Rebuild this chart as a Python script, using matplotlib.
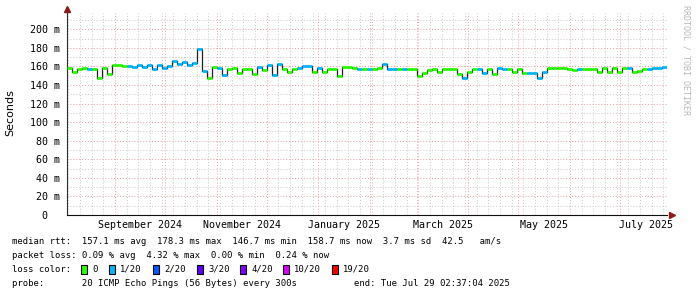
import matplotlib
matplotlib.use('Agg')
import matplotlib.pyplot as plt
import matplotlib.dates as mdates
import matplotlib.transforms as mtransforms
from matplotlib.patches import Rectangle
from matplotlib.ticker import MultipleLocator, FuncFormatter
from datetime import datetime, timedelta

# ---- data (one value every 3 days) ----
start = datetime(2024, 8, 3, 2, 37, 4)
end = datetime(2025, 7, 29, 2, 37, 4)
step_days = 3

median_ms = [
    158, 154, 157.5, 158.5, 157, 157, 148, 158, 152, 161,
    161, 160.5, 160, 159.5, 162, 159, 162, 157, 161, 158,
    160, 165.5, 163, 165, 162, 163.5, 178.5, 155, 148, 159.5,
    158, 151, 157.5, 158, 153, 157.5, 157, 152, 159, 156,
    161, 151, 162.5, 157, 154, 157, 158, 160, 160, 154,
    158.5, 154, 157, 157, 150, 159.7, 159.7, 158, 157.3, 157.5,
    157, 157.5, 158, 162.5, 157.5, 157, 157.5, 157, 157.5, 157.5,
    150, 153, 156.5, 157.5, 154, 157.5, 157.5, 157.5, 152, 147.5,
    154, 157.5, 157.5, 153, 157.5, 151.5, 158, 157.5, 157.5, 154,
    157.5, 153, 153, 153, 148, 154, 158.7, 158.7, 158.7, 158.5,
    157.5, 156, 157.5, 157.5, 157.5, 157.5, 154, 158, 154, 158,
    154, 158, 158, 154, 155, 157.5, 157.5, 158.5, 158.5, 159.5,
]
# index into loss_colors (0 -> 0 lost, 1 -> 1/20 lost)
loss_level = [
    0, 0, 0, 0, 1, 0, 0, 0, 0, 0,
    0, 0, 1, 1, 1, 1, 1, 1, 1, 1,
    1, 1, 1, 1, 1, 1, 1, 1, 0, 0,
    1, 1, 0, 0, 0, 0, 0, 0, 1, 0,
    1, 1, 1, 0, 0, 0, 1, 1, 1, 0,
    1, 0, 0, 0, 0, 0, 0, 0, 1, 0,
    1, 0, 0, 1, 1, 1, 0, 1, 0, 0,
    0, 0, 0, 0, 0, 0, 0, 0, 0, 1,
    0, 0, 1, 1, 0, 0, 1, 1, 0, 0,
    0, 0, 1, 1, 1, 1, 0, 0, 0, 0,
    0, 0, 1, 0, 0, 0, 0, 0, 0, 0,
    0, 0, 1, 0, 0, 0, 1, 1, 1, 1,
]

loss_colors = ['#26ff00', '#00b8ff', '#0059ff', '#5e00ff', '#7e00ff', '#dd00ff', '#ff0000']
loss_labels = ['0', '1/20', '2/20', '3/20', '4/20', '10/20', '19/20']

month_labels = ['September 2024', 'November 2024', 'January 2025',
                'March 2025', 'May 2025', 'July 2025']
label_months = [(2024, 9), (2024, 11), (2025, 1), (2025, 3), (2025, 5), (2025, 7)]

legend_lines = [
    'median rtt:  157.1 ms avg  178.3 ms max  146.7 ms min  158.7 ms now  3.7 ms sd  42.5   am/s',
    'packet loss: 0.09 % avg  4.32 % max  0.00 % min  0.24 % now',
    'loss color:',
    'probe:       20 ICMP Echo Pings (56 Bytes) every 300s',
]
end_text = 'end: Tue Jul 29 02:37:04 2025'

MONO = 'DejaVu Sans Mono'
W, H = 697, 297


def fx(px):
    return px / W


def fy(py):
    return 1 - py / H


fig = plt.figure(figsize=(W / 100, H / 100), dpi=100)
fig.patch.set_facecolor('white')
ax = fig.add_axes([fx(67), fy(215), 600 / W, 202 / H])
ax.set_facecolor('white')

t = [start + timedelta(days=step_days * i) for i in range(len(median_ms) + 1)]
vals = [v / 1000 for v in median_ms]

# thin dark median line underneath (gives the black vertical steps)
ax.step(t, vals + [vals[-1]], where='post', color='#202020', lw=0.9, zorder=3)

# thick horizontal pieces coloured by packet loss
ax.hlines(vals, t[:-1], t[1:], colors=[loss_colors[k] for k in loss_level],
          lw=2.0, zorder=4)

ax.set_xlim(start, end)
ax.set_ylim(0, 0.2175)

# grid: monthly red, weekly grey; 20 m red, 10 m grey
ax.xaxis.set_major_locator(mdates.MonthLocator())
ax.xaxis.set_minor_locator(mdates.WeekdayLocator(byweekday=mdates.SU))
ax.xaxis.set_major_formatter(plt.NullFormatter())
ax.yaxis.set_major_locator(MultipleLocator(0.02))
ax.yaxis.set_minor_locator(MultipleLocator(0.01))
ax.yaxis.set_major_formatter(FuncFormatter(
    lambda v, p: '0  ' if abs(v) < 1e-9 else f'{v * 1000:.0f} m'))

ax.grid(which='minor', color='#c8c8c8', linestyle=(0, (1, 2)), lw=0.7, zorder=0)
ax.grid(which='major', color='#e4a0a0', linestyle=(0, (1, 2)), lw=0.7, zorder=1)

ax.tick_params(axis='both', which='both', length=0)
ax.tick_params(axis='y', pad=5, labelsize=7.2)
for lab in ax.get_yticklabels():
    lab.set_fontfamily(MONO)

for s in ['top', 'right']:
    ax.spines[s].set_visible(False)
ax.spines['left'].set_color('#303030')
ax.spines['bottom'].set_color('#101010')
ax.spines['left'].set_linewidth(0.8)
ax.spines['bottom'].set_linewidth(0.8)

# arrows at the axis ends
ax.plot([0], [1.02], marker='^', color='#8b1a1a', ms=4, transform=ax.transAxes, clip_on=False)
ax.plot([1.008], [0], marker='>', color='#8b1a1a', ms=4, transform=ax.transAxes, clip_on=False)

# month labels centred on the month
trans = mtransforms.blended_transform_factory(ax.transData, fig.transFigure)
for (yr, mo), lab in zip(label_months, month_labels):
    m0 = datetime(yr, mo, 1)
    m1 = datetime(yr + (mo // 12), mo % 12 + 1, 1)
    mid = m0 + (m1 - m0) / 2
    ax.text(mid, fy(225), lab, transform=trans, ha='center', va='center',
            fontsize=7.2, family=MONO)

fig.text(fx(10), fy(113), 'Seconds', rotation=90, ha='center', va='center',
         fontsize=8, family='DejaVu Sans')

fig.text(fx(686), fy(5), 'RRDTOOL / TOBI OETIKER', rotation=270, ha='center', va='top',
         fontsize=6, family=MONO, color='#b8b8b8')

# legend block
ys = [241, 255.5, 269.5, 284]
for line, y in zip(legend_lines, ys):
    fig.text(fx(12.3), fy(y), line, ha='left', va='center', fontsize=6.4, family=MONO)
fig.text(fx(510), fy(284), end_text, ha='right', va='center', fontsize=6.4, family=MONO)

box_x = [81, 109, 153, 197, 240, 283, 332]
for bx, col, lab in zip(box_x, loss_colors, loss_labels):
    fig.add_artist(Rectangle((fx(bx), fy(274)), 6 / W, 9 / H, transform=fig.transFigure,
                             facecolor=col, edgecolor='black', lw=0.8))
    fig.text(fx(bx + 11), fy(269.5), lab, ha='left', va='center', fontsize=6.4, family=MONO)

fig.savefig('out.png', dpi=100)
